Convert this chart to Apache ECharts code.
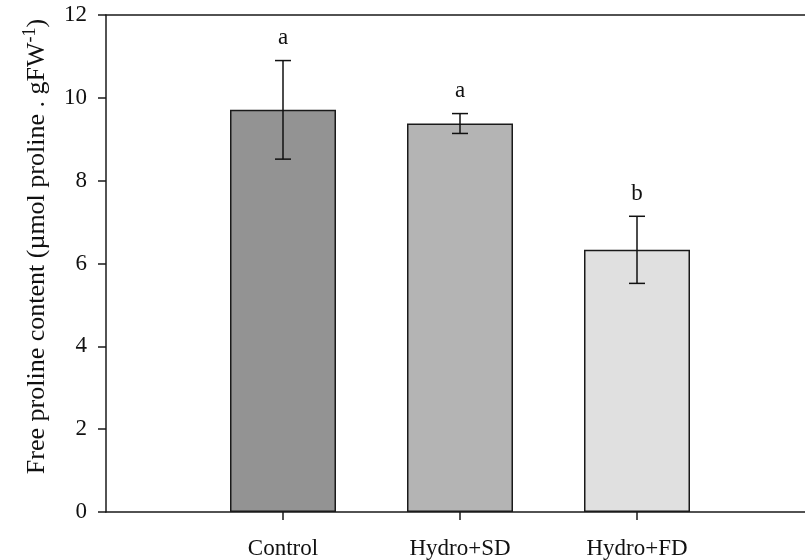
<!DOCTYPE html>
<html>
<head>
<meta charset="utf-8">
<script src="https://cdn.jsdelivr.net/npm/echarts@6/dist/echarts.min.js"></script>
<style>
html,body{margin:0;padding:0;background:#fff;overflow:hidden;width:805px;height:560px;}
#chart{width:817px;height:560px;}
</style>
</head>
<body>
<div id="chart"></div>
<script>
var categories = ['Control', 'Hydro+SD', 'Hydro+FD'];
var means = [9.71, 9.38, 6.33];
var errors = [1.19, 0.24, 0.81];
var letters = ['a', 'a', 'b'];
var barColors = ['#939393', '#b4b4b4', '#e0e0e0'];
var yTicks = [0, 2, 4, 6, 8, 10, 12];

var FONT = '"Liberation Serif", "DejaVu Serif", serif';
var AXIS_COLOR = '#1a1a1a';

// padded category list so that categories sit at 1/4, 2/4, 3/4 of the axis
var xData = [''].concat(categories).concat(['']);
var barData = [null];
categories.forEach(function (c, i) {
  barData.push({ value: means[i], itemStyle: { color: barColors[i] } });
});
barData.push(null);

var errData = categories.map(function (c, i) {
  return [i + 1, means[i] - errors[i], means[i] + errors[i], letters[i]];
});

var chart = echarts.init(document.getElementById('chart'), null, { renderer: 'canvas' });
chart.setOption({
  animation: false,
  backgroundColor: '#ffffff',
  grid: { left: 106, right: 0, top: 15, bottom: 47, containLabel: false },
  xAxis: [{
    type: 'category',
    data: xData,
    boundaryGap: false,
    axisLine: { show: true, lineStyle: { color: AXIS_COLOR, width: 1.5 } },
    axisTick: {
      show: true, inside: false, length: 8,
      interval: function (idx) { return idx >= 1 && idx <= categories.length; },
      lineStyle: { color: AXIS_COLOR, width: 1.5 }
    },
    axisLabel: {
      interval: 0, margin: 25,
      fontFamily: FONT, fontSize: 23, color: '#111'
    },
    splitLine: { show: false }
  }, {
    type: 'category',
    data: xData,
    position: 'top',
    boundaryGap: false,
    axisLine: { show: true, lineStyle: { color: AXIS_COLOR, width: 1.5 } },
    axisTick: { show: false },
    axisLabel: { show: false },
    splitLine: { show: false }
  }],
  yAxis: {
    type: 'value',
    min: yTicks[0],
    max: yTicks[yTicks.length - 1],
    interval: 2,
    name: 'Free proline content (\u00b5mol proline . gFW{sup|-1})',
    nameLocation: 'middle',
    nameGap: 53,
    nameRotate: 90,
    nameTextStyle: {
      fontFamily: FONT, fontSize: 26, color: '#111',
      padding: [0, 0, 0, 34],
      rich: { sup: { fontFamily: FONT, fontSize: 18, color: '#111', verticalAlign: 'top', padding: [0, 0, 14, 0] } }
    },
    axisLine: { show: true, lineStyle: { color: AXIS_COLOR, width: 1.5 } },
    axisTick: { show: true, inside: false, length: 8, lineStyle: { color: AXIS_COLOR, width: 1.5 } },
    axisLabel: { margin: 19, fontFamily: FONT, fontSize: 23, color: '#111' },
    splitLine: { show: false }
  },
  series: [{
    type: 'bar',
    data: barData,
    barWidth: 106,
    itemStyle: { borderColor: '#1a1a1a', borderWidth: 1.5 },
    z: 2
  }, {
    type: 'custom',
    data: errData,
    z: 5,
    renderItem: function (params, api) {
      var x = api.coord([api.value(0), 0])[0];
      var lo = api.coord([api.value(0), api.value(1)])[1];
      var hi = api.coord([api.value(0), api.value(2)])[1];
      var cap = 8;
      var st = { stroke: '#111', lineWidth: 1.5 };
      return {
        type: 'group',
        children: [
          { type: 'line', shape: { x1: x, y1: lo, x2: x, y2: hi }, style: st },
          { type: 'line', shape: { x1: x - cap, y1: lo, x2: x + cap, y2: lo }, style: st },
          { type: 'line', shape: { x1: x - cap, y1: hi, x2: x + cap, y2: hi }, style: st },
          { type: 'text', style: {
              text: letters[params.dataIndex], x: x, y: hi - 11,
              textAlign: 'center', textVerticalAlign: 'bottom',
              fontFamily: FONT, fontSize: 23, fill: '#111'
            } }
        ]
      };
    }
  }]
});
</script>
</body>
</html>
